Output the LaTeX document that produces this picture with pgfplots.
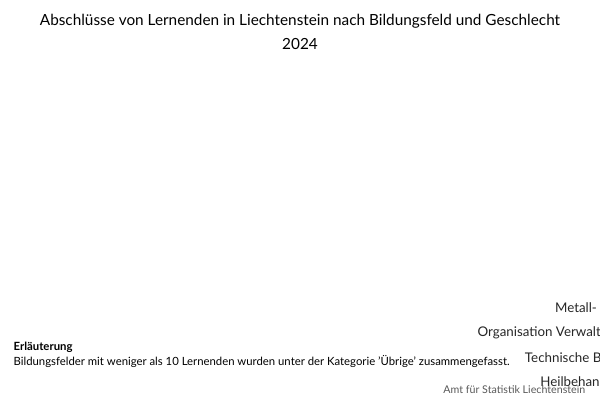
\documentclass[border=0pt]{standalone}
\usepackage{pgfplots}
\pgfplotsset{compat=1.18}
\usepackage{fontspec}
\setmainfont{Lato}
\definecolor{cTot}{HTML}{3FC1F0}
\definecolor{cM}{HTML}{555555}
\definecolor{cF}{HTML}{6B8FFF}
\begin{document}
\begin{tikzpicture}[x=0.75pt,y=0.75pt]
\path[use as bounding box] (0,0) rectangle (600,400);
\node[font=\fontsize{11.5}{14}\selectfont] at (300,379) {Abschlüsse von Lernenden in Liechtenstein nach Bildungsfeld und Geschlecht};
\node[font=\fontsize{11.5}{14}\selectfont] at (300,356) {2024};
\begin{axis}[at={(192,180)},anchor=south west,scale only axis,
 width=398*0.75pt,height=150*0.75pt,
 xmin=0,xmax=120,ymin=-0.5,ymax=5.5,y dir=reverse,
 xtick={0,20,40,60,80,100,120},ytick={0,1,2,3,4,5},
 yticklabels={{Metall- und{.}{.}{.}},{Organisation Verwaltung{.}{.}{.}},Technische Berufe,Heilbehandlung,Seelsorge und Fürsorge,Übrige},
 xmajorgrids,grid style={gray!25},
 axis line style={draw=none},tick style={draw=none},
 /pgf/number format/assume math mode=true,
 ticklabel style={font=\fontsize{10}{12}\selectfont,text=black!85},
 xlabel={Values},xlabel style={font=\fontsize{11}{13}\selectfont,yshift=-2pt},
 legend columns=3,
 legend style={at={(0.3,-0.55)},anchor=center,draw=none,font=\fontsize{10}{12}\selectfont,
   /tikz/every even column/.append style={column sep=14pt}},
]
\addlegendimage{only marks,mark=*,mark size=2.5pt,color=cTot}
\addlegendentry{Total}
\addlegendimage{only marks,mark=*,mark size=4pt,color=cM}
\addlegendentry{Männer}
\addlegendimage{only marks,mark=*,mark size=4pt,color=cF}
\addlegendentry{Frauen}
\draw[cM,line width=0.8pt] (axis cs:0,-0.5) -- (axis cs:0,5.5);
\addplot[forget plot,xbar,bar shift=0pt,bar width=7.5pt,fill=cF,draw=none] coordinates {(100,0) (67,1) (36,2) (28,3) (14,4) (61,5)};
\addplot[forget plot,xbar,bar shift=0pt,bar width=7.5pt,fill=cM,draw=white,line width=0.4pt] coordinates {(93,0) (17,1) (27,2) (1,3) (3,4) (41,5)};
\addplot[forget plot,only marks,mark=*,mark size=2.5pt,color=cTot] coordinates {(100,0) (67,1) (36,2) (28,3) (14,4) (61,5)};
\end{axis}
\node[anchor=west,font=\bfseries\fontsize{8.5}{10}\selectfont] at (9,53) {Erläuterung};
\node[anchor=west,font=\fontsize{8.5}{10}\selectfont] at (9,39) {Bildungsfelder mit weniger als 10 Lernenden wurden unter der Kategorie 'Übrige' zusammengefasst.};
\node[anchor=east,font=\fontsize{8}{10}\selectfont,text=black!65] at (590,10) {Amt für Statistik Liechtenstein};
\end{tikzpicture}
\end{document}
